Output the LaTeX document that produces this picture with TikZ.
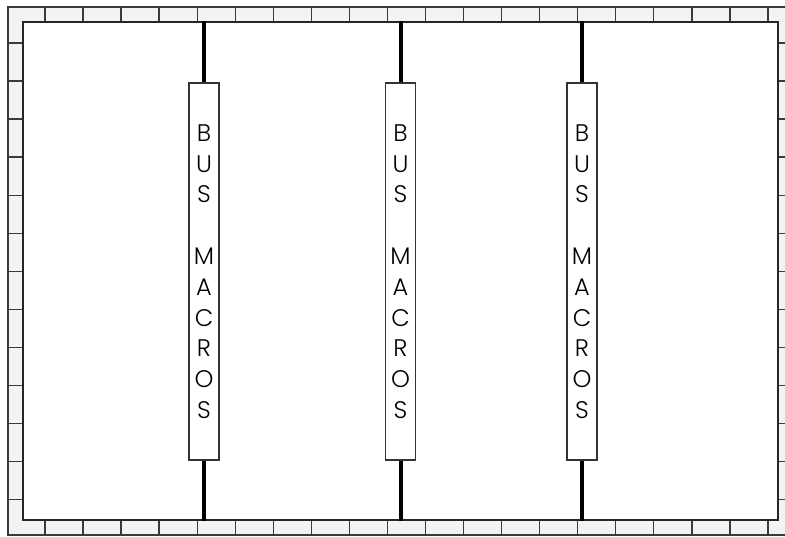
\documentclass[tikz,border=0pt]{standalone}
\usepackage{fontspec}
\newfontfamily\busfont{Poppins}[UprightFont=* Light]
\usepackage{tikz}
\usetikzlibrary{positioning,calc}
\definecolor{stripgray}{HTML}{F2F4F4}
\definecolor{tileline}{HTML}{3A3A3A}
\tikzset{
  strip/.style    = {draw=tileline, fill=stripgray, line width=1pt},
  tileedge/.style = {draw=tileline, line width=1pt},
  board/.style    = {draw=black!85, fill=white, line width=1pt, inner sep=0pt,
                     minimum width=566.25pt, minimum height=373.5pt},
  busbox/.style   = {draw=black!80, fill=white, line width=0.8pt, inner sep=0pt,
                     minimum width=22.5pt, minimum height=282.75pt, align=center,
                     font=\busfont\fontsize{18}{23.1}\selectfont},
  busline/.style  = {draw=black, line width=3pt},
}
\begin{document}
\begin{tikzpicture}[x=0.75pt,y=-0.75pt]
  \useasboundingbox (0,0) rectangle (785,536);
  \clip (0,0) rectangle (785,536);

  % tiled frame
  \draw[strip] (8,7) rectangle (800,535);
  \foreach \k in {0,...,19} {
    \draw[tileedge] ({45+38.05*\k},7) -- ({45+38.05*\k},22);
    \draw[tileedge] ({45+38.05*\k},520) -- ({45+38.05*\k},535);
  }
  \foreach \k in {0,...,12} {
    \draw[tileedge] (8,{43+38.05*\k}) -- (23,{43+38.05*\k});
    \draw[tileedge] (778,{43+38.05*\k}) -- (800,{43+38.05*\k});
  }

  % board
  \node[board] (brd) at (400.5,271) {};

  % bus macros
  \foreach \n/\x in {1/204, 2/400.5, 3/582} {
    \node[busbox] (bus\n) at (\x,271.5) {B\\U\\S\\[23.1pt]M\\A\\C\\R\\O\\S};
    \draw[busline] (bus\n.north) -- (bus\n.north |- brd.north);
    \draw[busline] (bus\n.south) -- (bus\n.south |- brd.south);
  }
\end{tikzpicture}
\end{document}
